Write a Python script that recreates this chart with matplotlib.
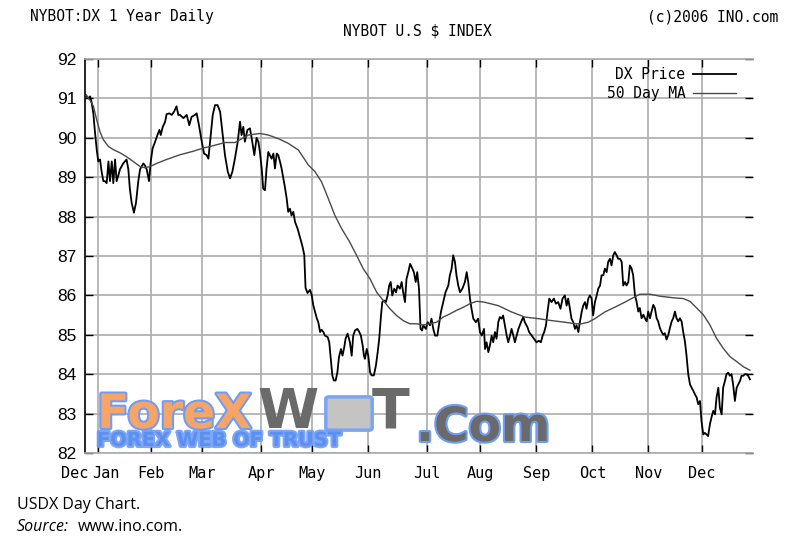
import matplotlib
matplotlib.use('Agg')
import matplotlib.pyplot as plt
import matplotlib.patheffects as pe
from matplotlib.patches import FancyBboxPatch

# trading-day index (0 = first day shown, late Dec) and DX close
price_day_1 = [0.4, 1.3, 2.0, 2.6, 3.3, 3.9, 4.6, 5.2, 5.9, 6.5, 7.2, 7.8, 8.5, 9.2, 9.8, 10.5,
               11.1, 11.8, 12.4, 13.1, 13.7, 15.0, 16.3, 17.0, 17.6, 18.3, 19.2, 20.0, 20.9, 21.6,
               22.9, 23.5, 24.2, 25.1, 25.8, 26.5, 27.5, 28.4, 29.2, 29.7, 30.5, 31.4, 32.0, 33.1,
               34.0, 34.9, 35.9, 36.6, 37.3, 38.6, 39.9, 40.9, 41.8, 43.1, 43.8, 44.7, 45.8, 46.7,
               47.7, 48.4, 49.3, 50.1]
price_1 = [91.08, 91.0, 91.05, 90.9, 90.6, 90.15, 89.7, 89.4, 89.45, 89.15, 88.9, 88.9, 88.85, 89.4,
           88.9, 89.4, 88.85, 89.45, 88.9, 89.05, 89.2, 89.35, 89.45, 89.2, 88.7, 88.35, 88.1, 88.35,
           88.9, 89.2, 89.35, 89.3, 89.2, 88.9, 89.4, 89.73, 89.9, 90.07, 90.2, 90.07, 90.28, 90.4,
           90.6, 90.62, 90.58, 90.66, 90.8, 90.58, 90.58, 90.5, 90.58, 90.32, 90.53, 90.58, 90.62,
           90.32, 89.9, 89.6, 89.56, 89.47, 90.07, 90.58]

price_day_2 = [51.0, 52.0, 53.0, 53.9, 54.9, 56.0, 56.9, 57.8, 58.8, 59.9, 60.8, 61.4, 62.1, 62.7,
               63.7, 64.7, 65.6, 66.4, 67.3, 68.0, 68.6, 69.3, 69.9, 70.6, 71.2, 71.9, 72.5, 73.2,
               73.9, 74.5, 75.2, 75.8, 76.5, 77.1, 77.8, 78.4, 79.1, 79.7, 80.4, 81.0, 81.7, 82.4,
               83.4, 84.3, 85.2, 86.0, 86.5, 87.3, 88.2, 88.9, 89.5, 90.2, 90.9, 91.5, 92.2, 92.8,
               93.5, 94.1, 95.2, 95.8, 96.3, 97.0, 97.6, 98.3, 99.0, 99.6, 100.4, 101.0, 101.7,
               102.2, 103.0]
price_2 = [90.83, 90.83, 90.66, 90.15, 89.56, 89.14, 88.97, 89.14, 89.47, 89.9, 90.41, 90.07, 90.28,
           89.9, 90.2, 90.24, 89.9, 89.56, 90.0, 89.9, 89.64, 89.22, 88.71, 88.67, 89.22, 89.64,
           89.56, 89.47, 89.6, 89.22, 89.6, 89.56, 89.39, 89.22, 88.97, 88.75, 88.46, 88.12, 88.2,
           88.03, 88.12, 87.86, 87.69, 87.48, 87.27, 87.03, 86.19, 86.06, 86.14, 86.02, 85.76, 85.59,
           85.42, 85.32, 85.07, 85.13, 85.07, 84.98, 84.94, 84.81, 84.47, 83.97, 83.84, 83.84, 84.05,
           84.43, 84.64, 84.47, 84.69, 84.9, 85.03]

price_day_3 = [103.9, 104.6, 105.2, 105.9, 106.8, 107.6, 108.2, 108.9, 109.4, 109.8, 110.5, 111.1,
               111.8, 112.4, 113.3, 114.1, 114.8, 115.4, 116.1, 116.6, 117.3, 118.0, 118.7, 119.3,
               119.9, 120.5, 121.3, 122.0, 122.6, 123.5, 124.2, 124.8, 125.5, 126.1, 126.8, 127.5,
               128.2, 129.0, 129.7, 130.3, 131.0, 131.6, 132.2, 132.7, 133.7, 134.4, 135.3, 135.9,
               136.6, 137.3, 138.2, 139.0, 139.6, 140.5, 141.4, 142.5, 143.1, 143.8, 144.4, 145.1,
               145.7, 146.4, 147.1, 148.0, 149.0, 149.7, 150.3, 151.0, 151.6, 152.3, 153.3, 154.2,
               154.9, 155.6, 156.5]
price_3 = [84.81, 84.47, 84.98, 85.11, 85.15, 85.07, 84.98, 84.73, 84.47, 84.39, 84.64, 84.47, 84.05,
           83.97, 83.97, 84.22, 84.56, 84.9, 85.49, 85.83, 85.87, 85.83, 86.0, 86.25, 86.34, 86.0,
           86.17, 86.08, 86.25, 86.17, 86.34, 86.08, 85.83, 86.42, 86.59, 86.8, 86.71, 86.59, 86.34,
           86.59, 86.17, 85.15, 85.11, 85.24, 85.15, 85.32, 85.24, 85.41, 85.15, 84.98, 84.98, 85.32,
           85.58, 85.83, 86.08, 86.25, 86.51, 86.68, 87.02, 86.85, 86.51, 86.25, 86.08, 86.17, 86.34,
           86.59, 86.34, 85.92, 85.66, 85.41, 85.32, 85.41, 85.07, 84.98, 85.15]

price_day_4 = [156.9, 157.5, 158.2, 158.8, 159.5, 160.1, 160.8, 161.4, 162.1, 162.7, 163.4, 164.0,
               164.7, 165.4, 166.0, 166.7, 167.3, 168.0, 168.6, 169.3, 170.0, 171.0, 171.9, 172.5,
               173.5, 174.2, 175.2, 176.1, 177.1, 178.0, 178.8, 179.5, 180.1, 180.8, 181.4, 182.1,
               183.0, 183.9, 184.7, 185.6, 186.5, 187.3, 188.2, 188.9, 189.5, 190.2, 190.8, 191.5,
               192.2, 192.8, 193.5, 194.1, 194.8, 195.4, 196.1, 196.7, 197.4, 198.0, 198.7, 199.3,
               200.0, 200.7, 201.3, 202.0, 202.6, 203.3, 203.9, 204.6, 205.2, 205.9, 206.5, 207.2,
               207.8, 208.5, 209.1]
price_4 = [84.64, 84.81, 84.56, 84.73, 84.98, 84.81, 85.07, 84.9, 85.32, 85.45, 85.41, 85.49, 85.24,
           84.98, 84.81, 84.98, 85.15, 84.98, 84.81, 84.98, 85.15, 85.32, 85.45, 85.32, 85.2, 85.07,
           84.98, 84.9, 84.81, 84.85, 84.81, 84.98, 85.07, 85.24, 85.58, 85.92, 85.83, 85.92, 85.79,
           85.83, 85.66, 85.92, 86.0, 85.74, 85.92, 85.66, 85.41, 85.32, 85.15, 85.24, 85.07, 85.32,
           85.58, 85.74, 85.83, 85.66, 85.92, 86.0, 85.92, 85.49, 85.83, 86.0, 86.17, 86.25, 86.51,
           86.51, 86.68, 86.59, 86.85, 86.93, 86.76, 87.02, 87.1, 87.02, 86.93]

price_day_5 = [209.8, 210.5, 211.1, 211.8, 212.4, 213.1, 213.7, 214.4, 215.0, 215.7, 216.3, 217.0,
               217.6, 218.3, 219.0, 219.6, 220.3, 220.9, 221.6, 222.2, 222.9, 223.5, 224.2, 224.8,
               225.5, 226.1, 226.8, 227.4, 228.1, 228.8, 229.4, 230.1, 230.7, 231.4, 232.0, 232.7,
               233.3, 234.0, 234.6, 235.3, 235.9, 236.6, 237.3, 237.9, 238.6, 239.2, 239.9, 240.5,
               241.2, 241.8, 242.5, 243.1, 243.8, 244.4, 245.1, 245.7, 246.4, 247.1, 247.7, 248.4,
               249.0, 249.7, 250.3, 251.0, 251.6, 252.3, 252.9, 253.6, 254.2, 254.9, 255.6, 256.2,
               256.9, 257.5, 258.2, 258.8, 259.5, 260.1, 260.8]
price_5 = [86.93, 86.85, 86.25, 86.34, 86.25, 86.34, 86.76, 86.68, 86.51, 86.0, 85.85, 85.59, 85.68,
           85.42, 85.51, 85.42, 85.34, 85.59, 85.42, 85.59, 85.76, 85.68, 85.42, 85.34, 85.17, 85.08,
           85.0, 85.04, 84.88, 85.0, 85.17, 85.34, 85.42, 85.59, 85.42, 85.34, 85.42, 85.34, 85.08,
           84.83, 84.49, 84.0, 83.74, 83.66, 83.58, 83.49, 83.41, 83.24, 83.32, 82.81, 82.47, 82.51,
           82.47, 82.43, 82.73, 82.9, 83.07, 82.98, 83.41, 83.66, 83.15, 82.98, 83.66, 83.83, 84.0,
           84.04, 83.96, 84.0, 83.74, 83.32, 83.66, 83.74, 83.83, 83.96, 83.96, 84.0, 84.0, 83.96,
           83.87]

# 50 day moving average
ma_day = [0.4, 2.0, 3.3, 4.6, 5.9, 7.2, 9.2, 11.1, 13.7, 16.3, 18.9, 21.6, 23.5, 25.5, 28.1, 32.0,
          37.3, 42.5, 46.4, 50.3, 54.9, 58.8, 64.1, 68.6, 71.9, 75.8, 79.7, 83.7, 87.6, 90.2, 92.8,
          95.4, 98.0, 100.7, 103.6, 106.5, 109.1, 111.8, 114.4, 117.0, 119.6, 122.2, 124.8, 127.4,
          130.1, 132.7, 135.3, 137.9, 140.5, 143.1, 145.7, 148.4, 151.0, 153.6, 156.5, 162.1, 167.3,
          172.5, 177.8, 183.0, 188.2, 192.2, 194.8, 197.4, 200.0, 203.9, 207.8, 211.8, 217.6, 221.6,
          225.5, 230.7, 234.6, 237.3, 239.9, 242.5, 245.1, 247.7, 250.3, 252.9, 255.6, 258.2, 260.8]
ma = [91.08, 90.95, 90.8, 90.45, 90.15, 89.95, 89.78, 89.7, 89.62, 89.52, 89.4, 89.27, 89.24, 89.27,
      89.35, 89.45, 89.57, 89.66, 89.74, 89.8, 89.88, 89.88, 90.07, 90.11, 90.07, 89.98, 89.86, 89.69,
      89.31, 89.14, 88.88, 88.46, 88.03, 87.69, 87.38, 87.02, 86.68, 86.42, 86.08, 85.87, 85.66,
      85.49, 85.36, 85.28, 85.28, 85.25, 85.28, 85.32, 85.45, 85.53, 85.62, 85.7, 85.79, 85.85,
      85.83, 85.74, 85.58, 85.45, 85.41, 85.36, 85.32, 85.28, 85.28, 85.32, 85.41, 85.58, 85.7,
      85.83, 86.03, 86.03, 85.98, 85.94, 85.92, 85.85, 85.68, 85.51, 85.25, 84.91, 84.66, 84.45,
      84.32, 84.19, 84.1]

month_start = [5, 26, 46, 69, 89, 111, 134, 155, 177, 199, 221, 242]
month_labels = ['Dec', 'Jan', 'Feb', 'Mar', 'Apr', 'May', 'Jun', 'Jul', 'Aug', 'Sep', 'Oct', 'Nov', 'Dec']
label_pos = [-4, 8, 26, 46, 69, 89, 111, 134, 155, 177, 199, 221, 242]

days = price_day_1 + price_day_2 + price_day_3 + price_day_4 + price_day_5
prices = price_1 + price_2 + price_3 + price_4 + price_5

mono = 'DejaVu Sans Mono'

fig = plt.figure(figsize=(8, 5.37), dpi=100)
ax = fig.add_axes([85 / 800, 1 - 453 / 537, 668 / 800, 394 / 537])

ax.plot(days, prices, color='black', lw=1.3, label='DX Price', zorder=3)
ax.plot(ma_day, ma, color='#4a4a4a', lw=1.0, label='50 Day MA', zorder=3)

ax.set_xlim(0, 262)
ax.set_ylim(82, 92)
ax.set_yticks(range(82, 93))
ax.set_xticks(month_start)
ax.set_xticklabels([])
ax.grid(True, color='#ababab', lw=1.2, zorder=0)
ax.tick_params(direction='in', length=6, width=1, color='black', top=True, right=True,
               labelsize=12.5, pad=6)
for lbl in ax.get_yticklabels():
    lbl.set_family('Liberation Sans')

ax.spines['left'].set_color('black')
ax.spines['left'].set_linewidth(1.2)
for side in ['top', 'bottom']:
    ax.spines[side].set_color('#ababab')
    ax.spines[side].set_linewidth(1.2)
ax.spines['right'].set_visible(False)

for lbl, pos in zip(month_labels, label_pos):
    ax.text(pos, -0.053, lbl, transform=ax.get_xaxis_transform(), ha='center', va='center',
            family=mono, fontsize=11, clip_on=False)

ax.legend(loc='upper right', bbox_to_anchor=(0.975, 0.98), frameon=False, markerfirst=False,
          prop={'family': mono, 'size': 10.5}, handlelength=3.0, handletextpad=0.5,
          labelspacing=0.3, borderpad=0, borderaxespad=0)

# header texts
fig.text(30 / 800, 1 - 17 / 537, 'NYBOT:DX 1 Year Daily', family=mono, fontsize=10.5, va='center')
fig.text(778 / 800, 1 - 17 / 537, '(c)2006 INO.com', family=mono, fontsize=10.5, va='center', ha='right')
fig.text(417 / 800, 1 - 31 / 537, 'NYBOT U.S $ INDEX', family=mono, fontsize=10.5, va='center', ha='center')

# watermark logo
blue_edge = [pe.withStroke(linewidth=3, foreground='#6f9cf5')]
fig.text(97 / 800, 1 - 446 / 537, 'FOREX WEB OF TRUST', color='#5b8ff0', fontsize=14,
         fontweight='bold', family='DejaVu Sans', path_effects=blue_edge, alpha=0.9)
fig.text(97 / 800, 1 - 428 / 537, 'ForeX', color='#f7a566', fontsize=34, fontweight='bold',
         family='DejaVu Sans', path_effects=blue_edge)
fig.text(257 / 800, 1 - 428 / 537, 'W', color='#6a6a6a', fontsize=40, fontweight='bold',
         family='DejaVu Sans')
fig.patches.append(FancyBboxPatch((329 / 800, 1 - 428 / 537), 40 / 800, 29 / 537,
                                  boxstyle='round,pad=0.004', transform=fig.transFigure,
                                  fc='#c4c4c4', ec='#7aa5f5', lw=2.5))
fig.text(372 / 800, 1 - 428 / 537, 'T', color='#6a6a6a', fontsize=40, fontweight='bold',
         family='DejaVu Sans')
fig.text(416 / 800, 1 - 441 / 537, '.Com', color='#6a6a6a', fontsize=34, fontweight='bold',
         family='DejaVu Sans', path_effects=blue_edge)

# caption
fig.text(17 / 800, 1 - 505 / 537, 'USDX Day Chart.', family='Open Sans', fontsize=11.5, va='center')
fig.text(17 / 800, 1 - 527 / 537, 'Source:', family='Open Sans', fontsize=11.5, va='center', style='italic')
fig.text(78 / 800, 1 - 527 / 537, 'www.ino.com.', family='Open Sans', fontsize=11.5, va='center')

fig.savefig('out.png', dpi=100)
